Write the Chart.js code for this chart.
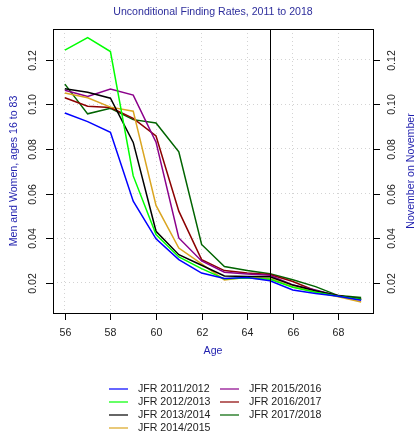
<!DOCTYPE html>
<html>
<head>
<meta charset="utf-8">
<script src="https://cdn.jsdelivr.net/npm/chart.js@4"></script>
<style>
  body { margin: 0; background: #fff; }
  #wrap { width: 417px; height: 441px; }
</style>
</head>
<body>
<div id="wrap"><canvas id="chart" width="417" height="441"></canvas></div>
<script>
// ages 56..69
let ages = [56, 57, 58, 59, 60, 61, 62, 63, 64, 65, 66, 67, 68, 69];

let seriesLabels = ['JFR 2011/2012', 'JFR 2012/2013', 'JFR 2013/2014', 'JFR 2014/2015',
    'JFR 2015/2016', 'JFR 2016/2017', 'JFR 2017/2018'];
let seriesColors = ['#0000ff', '#00ff00', '#000000', '#daa520', '#8b008b', '#8b0000', '#006400'];

let jfr2011 = [0.0961, 0.0922, 0.0874, 0.0566, 0.0397, 0.0304, 0.0244, 0.0220, 0.0224, 0.0209, 0.0168, 0.0152, 0.0140, 0.0122];
let jfr2012 = [0.1242, 0.1298, 0.1236, 0.0679, 0.0416, 0.0316, 0.0264, 0.0218, 0.0222, 0.0216, 0.0180, 0.0158, 0.0140, 0.0125];
let jfr2013 = [0.1069, 0.1054, 0.1027, 0.0829, 0.0431, 0.0326, 0.0279, 0.0231, 0.0228, 0.0227, 0.0190, 0.0165, 0.0142, 0.0128];
let jfr2014 = [0.1050, 0.1029, 0.0987, 0.0969, 0.0547, 0.0356, 0.0285, 0.0213, 0.0225, 0.0220, 0.0183, 0.0160, 0.0138, 0.0114];
let jfr2015 = [0.1063, 0.1035, 0.1068, 0.1041, 0.0830, 0.0401, 0.0298, 0.0248, 0.0240, 0.0234, 0.0191, 0.0168, 0.0140, 0.0125];
let jfr2016 = [0.1029, 0.0991, 0.0985, 0.0937, 0.0858, 0.0521, 0.0304, 0.0255, 0.0244, 0.0237, 0.0206, 0.0165, 0.0142, 0.0125];
let jfr2017 = [0.1090, 0.0957, 0.0982, 0.0931, 0.0916, 0.0787, 0.0372, 0.0273, 0.0255, 0.0241, 0.0214, 0.0183, 0.0143, 0.0134];

let xTicks = [56, 58, 60, 62, 64, 66, 68];
let yTicks = [0.02, 0.04, 0.06, 0.08, 0.10, 0.12];
let yTickLabels = ['0.02', '0.04', '0.06', '0.08', '0.10', '0.12'];
let markerAge = 65;

let titleText = 'Unconditional Finding Rates, 2011 to 2018';
let xTitle = 'Age';
let yTitleLeft = 'Men and Women, ages 16 to 83';
let yTitleRight = 'November on November';

let allSeries = [jfr2011, jfr2012, jfr2013, jfr2014, jfr2015, jfr2016, jfr2017];

let FONT = '10.6px "Liberation Sans", Arial, sans-serif';
let TITLE_BLUE = '#2e2e9c';
let AXIS_BLUE = '#1f1fae';

let datasets = allSeries.map((values, i) => ({
    label: seriesLabels[i],
    data: values.map((v, j) => ({ x: ages[j], y: v })),
    borderColor: seriesColors[i],
    borderWidth: 1.5,
    pointRadius: 0,
    tension: 0,
    fill: false
}));

let decorations = {
    id: 'decorations',
    afterDatasetsDraw(chart) {
        let ctx = chart.ctx;
        let area = chart.chartArea;
        let xs = chart.scales.x;
        let ys = chart.scales.y;
        ctx.save();

        // vertical marker line
        let mx = Math.round(xs.getPixelForValue(markerAge)) + 0.5;
        ctx.strokeStyle = '#000';
        ctx.lineWidth = 1;
        ctx.beginPath();
        ctx.moveTo(mx, area.top);
        ctx.lineTo(mx, area.bottom);
        ctx.stroke();

        // box
        ctx.strokeRect(Math.round(area.left) + 0.5, Math.round(area.top) + 0.5,
            Math.round(area.right - area.left), Math.round(area.bottom - area.top));

        ctx.font = FONT;
        ctx.fillStyle = '#222';

        // x ticks
        ctx.textAlign = 'center';
        ctx.textBaseline = 'middle';
        xTicks.forEach(t => {
            let px = Math.round(xs.getPixelForValue(t)) + 0.5;
            ctx.beginPath();
            ctx.moveTo(px, area.bottom);
            ctx.lineTo(px, area.bottom + 7);
            ctx.stroke();
            ctx.fillText(String(t), px, area.bottom + 20);
        });

        // y ticks both sides, labels rotated
        yTicks.forEach((t, i) => {
            let py = Math.round(ys.getPixelForValue(t)) + 0.5;
            ctx.beginPath();
            ctx.moveTo(area.left - 7, py);
            ctx.lineTo(area.left, py);
            ctx.moveTo(area.right, py);
            ctx.lineTo(area.right + 7, py);
            ctx.stroke();
            [area.left - 19.5, area.right + 19.5].forEach(lx => {
                ctx.save();
                ctx.translate(lx, py);
                ctx.rotate(-Math.PI / 2);
                ctx.fillText(yTickLabels[i], 0, 0);
                ctx.restore();
            });
        });

        // titles
        let cx = (area.left + area.right) / 2;
        let cy = (area.top + area.bottom) / 2;
        ctx.fillStyle = TITLE_BLUE;
        ctx.fillText(titleText, cx, 12.5);
        ctx.fillStyle = AXIS_BLUE;
        ctx.fillText(xTitle, cx, 351);
        [[14.5, yTitleLeft], [411, yTitleRight]].forEach(([tx, txt]) => {
            ctx.save();
            ctx.translate(tx, cy);
            ctx.rotate(-Math.PI / 2);
            ctx.fillText(txt, 0, 0);
            ctx.restore();
        });

        // legend, two columns filled top to bottom
        ctx.textAlign = 'left';
        ctx.fillStyle = '#222';
        chart.data.datasets.forEach((ds, i) => {
            let col = i < 4 ? 0 : 1;
            let row = i < 4 ? i : i - 4;
            let lx = col === 0 ? 109 : 220;
            let ly = Math.round(388.5 + row * 13.3);
            ctx.strokeStyle = ds.borderColor;
            ctx.lineWidth = 1.2;
            ctx.beginPath();
            ctx.moveTo(lx, ly);
            ctx.lineTo(lx + 19, ly);
            ctx.stroke();
            ctx.fillText(ds.label, lx + 29, ly + 0.5);
        });
        ctx.restore();
    }
};

let gridOpts = { color: '#d3d3d3', lineWidth: 1, drawTicks: false };

new Chart(document.getElementById('chart'), {
    type: 'line',
    data: { datasets: datasets },
    options: {
        responsive: false,
        animation: false,
        devicePixelRatio: 1,
        layout: { padding: { left: 53, right: 44, top: 29, bottom: 128 } },
        plugins: { legend: { display: false }, title: { display: false }, tooltip: { enabled: false } },
        scales: {
            x: {
                type: 'linear', min: 55.48, max: 69.52,
                ticks: { display: false },
                grid: gridOpts,
                border: { display: false, dash: [1, 3] },
                afterBuildTicks: s => { s.ticks = xTicks.map(v => ({ value: v })); },
                afterFit: s => { s.height = 0; }
            },
            y: {
                type: 'linear', min: 0.0065, max: 0.1337,
                ticks: { display: false },
                grid: gridOpts,
                border: { display: false, dash: [1, 3] },
                afterBuildTicks: s => { s.ticks = yTicks.map(v => ({ value: v })); },
                afterFit: s => { s.width = 0; }
            }
        }
    },
    plugins: [decorations]
});
</script>
</body>
</html>
